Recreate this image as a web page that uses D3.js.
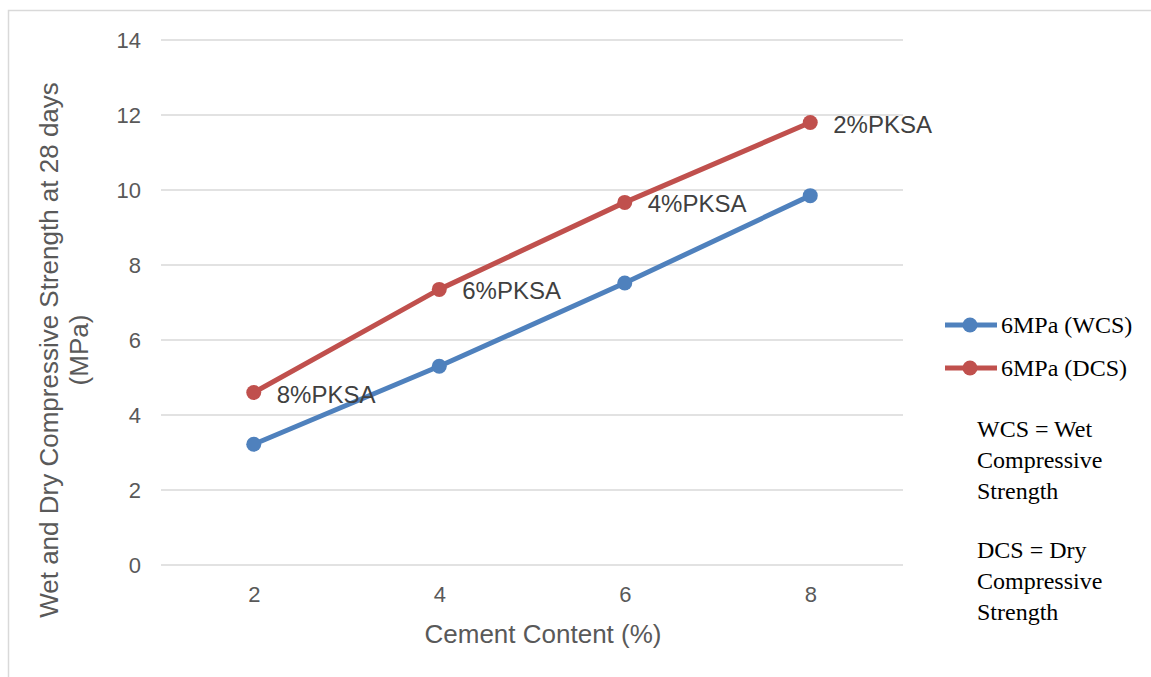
<!DOCTYPE html>
<html>
<head>
<meta charset="utf-8">
<script src="https://cdn.jsdelivr.net/npm/d3@7"></script>
<style>
  html, body { margin: 0; padding: 0; background: #fff; }
  svg { display: block; }
</style>
</head>
<body>
<svg id="chart" width="1151" height="677"></svg>
<script>
// Cement content (%) on the x axis
const cementContent = [2, 4, 6, 8];
// Wet compressive strength at 28 days (MPa)
const wcsValues = [3.22, 5.3, 7.52, 9.85];
// Dry compressive strength at 28 days (MPa)
const dcsValues = [4.6, 7.35, 9.67, 11.8];
// PKSA replacement levels labelled on the dry series
const pksaLabels = ["8%PKSA", "6%PKSA", "4%PKSA", "2%PKSA"];
const yTicks = [0, 2, 4, 6, 8, 10, 12, 14];

const series = [
  { name: "6MPa (WCS)", values: wcsValues, color: "#4f81bd" },
  { name: "6MPa (DCS)", values: dcsValues, color: "#c0504d" }
];

const sans = "Liberation Sans, Arial, sans-serif";
const serif = "Liberation Serif, Times New Roman, serif";

const svg = d3.select("#chart");
const plot = { left: 161, right: 903, top: 40, bottom: 565 };

// Outer chart frame
svg.append("rect")
  .attr("x", 8.5).attr("y", 10.5)
  .attr("width", 1160).attr("height", 700)
  .attr("fill", "none").attr("stroke", "#d9d9d9").attr("stroke-width", 1.5);

const x = d3.scalePoint()
  .domain(cementContent)
  .range([plot.left, plot.right])
  .padding(0.5);

const y = d3.scaleLinear()
  .domain([0, 14])
  .range([plot.bottom, plot.top]);

// Horizontal gridlines
svg.append("g")
  .selectAll("line")
  .data(yTicks)
  .join("line")
  .attr("x1", plot.left).attr("x2", plot.right)
  .attr("y1", d => y(d)).attr("y2", d => y(d))
  .attr("stroke", "#d9d9d9").attr("stroke-width", 1.5);

// Y axis tick labels
const yAxis = svg.append("g")
  .attr("transform", `translate(${plot.left},0)`)
  .call(d3.axisLeft(y).tickValues(yTicks).tickSize(0).tickPadding(20));
yAxis.select(".domain").remove();
yAxis.selectAll("text")
  .attr("font-family", sans)
  .attr("font-size", 22).attr("fill", "#595959");

// X axis tick labels
const xAxis = svg.append("g")
  .attr("transform", `translate(0,${plot.bottom})`)
  .call(d3.axisBottom(x).tickSize(0).tickPadding(21));
xAxis.select(".domain").remove();
xAxis.selectAll("text")
  .attr("font-family", sans)
  .attr("font-size", 22).attr("fill", "#595959");

// Axis titles
svg.append("text")
  .attr("x", 543).attr("y", 643)
  .attr("text-anchor", "middle")
  .attr("font-family", sans)
  .attr("font-size", 26).attr("fill", "#595959")
  .text("Cement Content (%)");

const yTitle = svg.append("text")
  .attr("transform", "rotate(-90)")
  .attr("text-anchor", "middle")
  .attr("font-family", sans)
  .attr("font-size", 26).attr("fill", "#595959");
yTitle.append("tspan").attr("x", -350).attr("y", 58)
  .text("Wet and Dry Compressive Strength at 28 days");
yTitle.append("tspan").attr("x", -350).attr("y", 88)
  .text("(MPa)");

// Series lines and markers
const line = d3.line()
  .x((d, i) => x(cementContent[i]))
  .y(d => y(d));

series.forEach(s => {
  svg.append("path")
    .datum(s.values)
    .attr("d", line)
    .attr("fill", "none")
    .attr("stroke", s.color)
    .attr("stroke-width", 5)
    .attr("stroke-linejoin", "round");
  svg.append("g")
    .selectAll("circle")
    .data(s.values)
    .join("circle")
    .attr("cx", (d, i) => x(cementContent[i]))
    .attr("cy", d => y(d))
    .attr("r", 7.5)
    .attr("fill", s.color);
});

// PKSA labels beside the dry series points
svg.append("g")
  .selectAll("text")
  .data(dcsValues)
  .join("text")
  .attr("x", (d, i) => x(cementContent[i]) + 23)
  .attr("y", d => y(d) + 10)
  .attr("font-family", sans)
  .attr("font-size", 24).attr("fill", "#404040")
  .text((d, i) => pksaLabels[i]);

// Legend
const legend = svg.append("g");
series.forEach((s, i) => {
  const ly = 325 + i * 43;
  legend.append("line")
    .attr("x1", 945).attr("x2", 997)
    .attr("y1", ly).attr("y2", ly)
    .attr("stroke", s.color).attr("stroke-width", 5);
  legend.append("circle")
    .attr("cx", 970).attr("cy", ly).attr("r", 7.5)
    .attr("fill", s.color);
  legend.append("text")
    .attr("x", 1001).attr("y", ly + 8)
    .attr("font-family", serif)
    .attr("font-size", 24).attr("fill", "#000")
    .text(s.name);
});

// Abbreviation notes
const notes = [
  ["WCS = Wet", "Compressive", "Strength"],
  ["DCS = Dry", "Compressive", "Strength"]
];
notes.forEach((lines, k) => {
  const t = svg.append("text")
    .attr("font-family", serif)
    .attr("font-size", 24).attr("fill", "#000");
  lines.forEach((l, j) => {
    t.append("tspan")
      .attr("x", 977)
      .attr("y", 437 + k * 121 + j * 31)
      .text(l);
  });
});
</script>
</body>
</html>
